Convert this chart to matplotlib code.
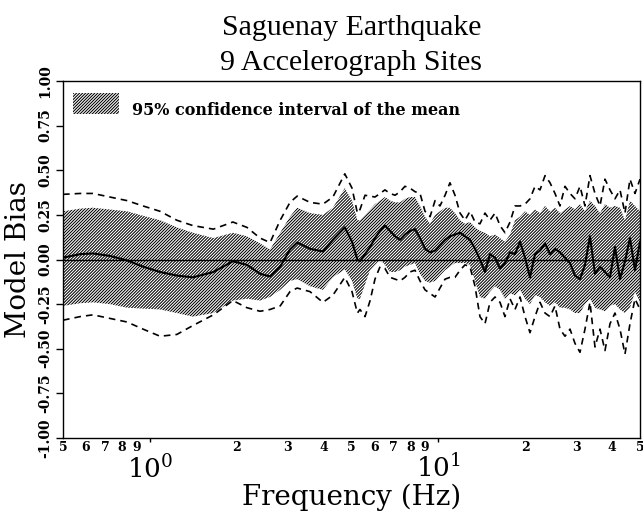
import numpy as np
import matplotlib
matplotlib.use('Agg')
import matplotlib.pyplot as plt
from matplotlib.patches import Rectangle
from matplotlib.ticker import FixedLocator, FixedFormatter

# frequency samples (Hz) and values
freq = [0.50, 0.573, 0.635, 0.727, 0.833, 0.947, 1.085, 1.24, 1.41, 1.66,
        1.94, 2.17, 2.41, 2.61, 2.83, 3.06, 3.24, 3.59, 3.98, 4.31,
        4.74, 5.02, 5.24, 5.35, 5.57, 5.80, 6.03, 6.28, 6.53, 6.80,
        7.08, 7.37, 7.66, 7.97, 8.30, 8.64, 8.99, 9.36, 9.74, 10.13,
        10.55, 10.97, 11.42, 11.89, 12.37, 12.87, 13.40, 13.94, 14.51, 15.10,
        15.72, 16.36, 17.02, 17.72, 18.44, 19.19, 19.97, 20.78, 21.63, 22.51,
        23.43, 24.38, 25.37, 26.40, 27.48, 28.60, 29.76, 30.97, 32.23, 33.54,
        34.91, 36.33, 37.81, 39.35, 40.95, 42.62, 44.35, 46.16, 48.04, 50.0]

bias = [0.01, 0.03, 0.034, 0.02, -0.005, -0.04, -0.07, -0.09, -0.10, -0.07,
        -0.01, -0.03, -0.08, -0.095, -0.04, 0.056, 0.095, 0.06, 0.045, 0.11,
        0.18, 0.10, 0.0, -0.01, 0.03, 0.07, 0.12, 0.16, 0.19, 0.16,
        0.13, 0.11, 0.14, 0.16, 0.17, 0.12, 0.06, 0.04, 0.05, 0.08,
        0.11, 0.13, 0.14, 0.15, 0.13, 0.11, 0.06, 0.0, -0.07, 0.03,
        0.01, -0.05, -0.02, 0.04, 0.03, 0.10, 0.01, -0.10, 0.03, 0.05,
        0.09, 0.03, 0.06, 0.04, 0.01, -0.02, -0.09, -0.11, -0.03, 0.13,
        -0.08, -0.04, -0.07, -0.10, 0.07, -0.11, -0.01, 0.12, -0.06, 0.10]

ci_hi = [0.27, 0.285, 0.29, 0.28, 0.27, 0.245, 0.22, 0.18, 0.15, 0.12,
         0.15, 0.13, 0.09, 0.056, 0.15, 0.24, 0.29, 0.26, 0.25, 0.29,
         0.40, 0.33, 0.22, 0.22, 0.25, 0.28, 0.31, 0.33, 0.35, 0.33,
         0.32, 0.32, 0.34, 0.35, 0.35, 0.30, 0.24, 0.20, 0.25, 0.27,
         0.29, 0.29, 0.26, 0.22, 0.20, 0.21, 0.18, 0.16, 0.15, 0.13,
         0.14, 0.12, 0.10, 0.14, 0.22, 0.24, 0.27, 0.25, 0.28, 0.26,
         0.30, 0.27, 0.29, 0.26, 0.28, 0.30, 0.28, 0.31, 0.27, 0.33,
         0.30, 0.26, 0.31, 0.29, 0.30, 0.29, 0.22, 0.33, 0.30, 0.27]

ci_lo = [-0.26, -0.245, -0.24, -0.25, -0.27, -0.275, -0.28, -0.30, -0.32, -0.30,
         -0.23, -0.22, -0.23, -0.21, -0.17, -0.12, -0.11, -0.15, -0.17, -0.10,
         -0.056, -0.12, -0.22, -0.22, -0.14, -0.06, -0.03, 0.0, -0.03, -0.07,
         -0.07, -0.06, -0.04, -0.03, -0.02, -0.08, -0.12, -0.13, -0.12, -0.09,
         -0.06, -0.04, -0.02, -0.02, -0.02, -0.03, -0.12, -0.21, -0.22, -0.18,
         -0.15, -0.17, -0.22, -0.19, -0.20, -0.17, -0.22, -0.25, -0.20, -0.21,
         -0.24, -0.26, -0.24, -0.27, -0.27, -0.28, -0.30, -0.30, -0.25, -0.22,
         -0.27, -0.28, -0.29, -0.26, -0.25, -0.28, -0.30, -0.27, -0.18, -0.24]

sd_hi = [0.365, 0.37, 0.37, 0.35, 0.33, 0.30, 0.27, 0.22, 0.19, 0.17,
         0.21, 0.18, 0.12, 0.095, 0.22, 0.32, 0.355, 0.32, 0.31, 0.35,
         0.48, 0.40, 0.26, 0.28, 0.36, 0.355, 0.35, 0.37, 0.39, 0.37,
         0.36, 0.38, 0.41, 0.40, 0.38, 0.37, 0.27, 0.24, 0.33, 0.30,
         0.36, 0.43, 0.36, 0.26, 0.22, 0.27, 0.21, 0.20, 0.26, 0.22,
         0.26, 0.19, 0.15, 0.21, 0.30, 0.30, 0.31, 0.34, 0.41, 0.39,
         0.47, 0.43, 0.37, 0.30, 0.41, 0.37, 0.34, 0.41, 0.30, 0.47,
         0.37, 0.30, 0.45, 0.39, 0.34, 0.39, 0.26, 0.45, 0.37, 0.45]

sd_lo = [-0.34, -0.32, -0.31, -0.33, -0.35, -0.39, -0.43, -0.42, -0.37, -0.31,
         -0.23, -0.27, -0.29, -0.28, -0.26, -0.18, -0.16, -0.18, -0.24, -0.20,
         -0.10, -0.18, -0.30, -0.28, -0.32, -0.23, -0.11, -0.04, -0.05, -0.10,
         -0.11, -0.12, -0.10, -0.07, -0.06, -0.12, -0.17, -0.19, -0.21, -0.16,
         -0.11, -0.10, -0.10, -0.06, -0.03, -0.04, -0.15, -0.32, -0.36, -0.24,
         -0.21, -0.24, -0.32, -0.22, -0.28, -0.21, -0.32, -0.41, -0.32, -0.24,
         -0.30, -0.32, -0.26, -0.39, -0.43, -0.39, -0.47, -0.52, -0.39, -0.24,
         -0.49, -0.39, -0.51, -0.36, -0.30, -0.39, -0.53, -0.36, -0.22, -0.28]

minor_ticks = [0.5, 0.6, 0.7, 0.8, 0.9, 2, 3, 4, 5, 6, 7, 8, 9, 20, 30, 40, 50]
minor_labels = ['5', '6', '7', '8', '9', '2', '3', '4', '5', '6', '7', '8', '9',
                '2', '3', '4', '5']
y_ticks = [-1.0, -0.75, -0.5, -0.25, 0.0, 0.25, 0.5, 0.75, 1.0]

plt.rcParams['font.family'] = 'DejaVu Serif'
plt.rcParams['mathtext.fontset'] = 'dejavuserif'
plt.rcParams['hatch.linewidth'] = 0.75
plt.rcParams['hatch.color'] = 'black'

HATCH = '/' * 11

fig = plt.figure(figsize=(6.43, 5.23), dpi=100)
ax = fig.add_axes([63/643, 85/523, 577/643, 357/523])

ax.fill_between(freq, ci_lo, ci_hi, facecolor='white', edgecolor='black',
                hatch=HATCH, linewidth=0)
ax.axhline(0, color='black', lw=1.0)
ax.plot(freq, bias, color='black', lw=1.5)
ax.plot(freq, sd_hi, color='black', lw=1.2, ls=(0, (4, 3)))
ax.plot(freq, sd_lo, color='black', lw=1.2, ls=(0, (4, 3)))

ax.set_xscale('log')
ax.set_xlim(0.5, 50)
ax.set_ylim(-1, 1)

ax.xaxis.set_major_locator(FixedLocator([1, 10]))
ax.xaxis.set_major_formatter(FixedFormatter([r'$10^0$', r'$10^1$']))
ax.xaxis.set_minor_locator(FixedLocator(minor_ticks))
ax.xaxis.set_minor_formatter(FixedFormatter(minor_labels))
ax.tick_params(axis='x', which='major', direction='out', length=3, width=1,
               labelsize=19, pad=9)
ax.tick_params(axis='x', which='minor', length=0, labelsize=9, pad=2)
for lab in ax.xaxis.get_minorticklabels():
    lab.set_fontweight('bold')

ax.set_yticks(y_ticks)
ax.set_yticklabels(['%.2f' % v for v in y_ticks])
ax.tick_params(axis='y', direction='out', length=5, width=1, labelsize=10,
               pad=3, labelrotation=90)
for lab in ax.get_yticklabels():
    lab.set_fontweight('bold')
    lab.set_va('center')

for s in ax.spines.values():
    s.set_linewidth(1.0)

ax.set_xlabel('Frequency (Hz)', fontsize=20, labelpad=0)
ax.set_ylabel('Model Bias', fontsize=20, labelpad=4)

# legend box
ax.add_patch(Rectangle((0.0173, 0.9076), 0.0797, 0.0588, transform=ax.transAxes,
                       facecolor='white', edgecolor='black', hatch=HATCH,
                       linewidth=0))
ax.text(0.1196, 0.905, '95% confidence interval of the mean', transform=ax.transAxes,
        fontsize=11.5, fontweight='bold', va='baseline', ha='left')

cx = (63 + 577 / 2) / 643
fig.text(cx, 1 - 35/523, 'Saguenay Earthquake', family='Liberation Serif',
         fontsize=21.5, ha='center', va='baseline')
fig.text(cx, 1 - 70/523, '9 Accelerograph Sites', family='Liberation Serif',
         fontsize=21.5, ha='center', va='baseline')

plt.savefig('out.png', dpi=100)
